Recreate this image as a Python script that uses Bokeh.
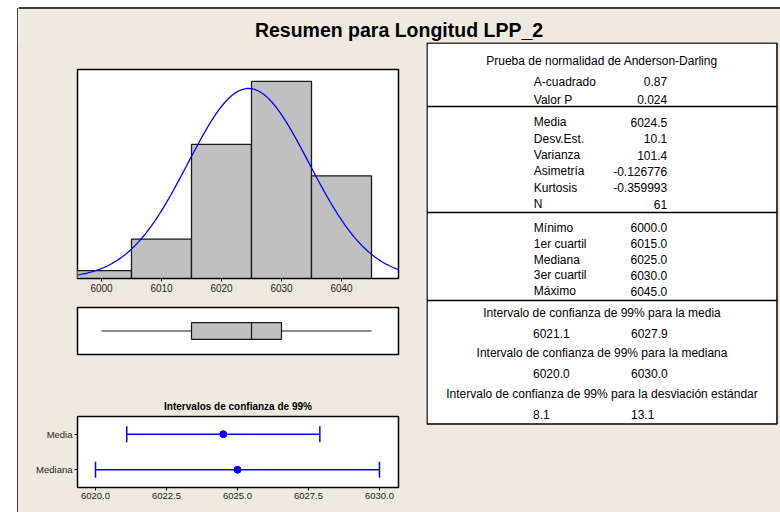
import numpy as np
from bokeh.plotting import figure
from bokeh.layouts import row, column
from bokeh.models import Range1d, FactorRange, FixedTicker, NumeralTickFormatter
from bokeh.core.properties import value
from bokeh.embed import file_html
from bokeh.resources import INLINE

# ---------------- data ----------------
bin_edges = [5995, 6005, 6015, 6025, 6035, 6045]
bin_counts = [1, 5, 17, 25, 13]
hist_ticks = [6000, 6010, 6020, 6030, 6040]

n_obs = 61
media = 6024.5
desv = 10.1

box_min, box_q1, box_med, box_q3, box_max = 6000.0, 6015.0, 6025.0, 6030.0, 6045.0

ci_labels = ["Media", "Mediana"]
ci_center = [6024.5, 6025.0]
ci_low = [6021.1, 6020.0]
ci_high = [6027.9, 6030.0]
ci_ticks = [6020.0, 6022.5, 6025.0, 6027.5, 6030.0]

ad_labels = ["A-cuadrado", "Valor P"]
ad_values = ["0.87", "0.024"]
desc_labels = ["Media", "Desv.Est.", "Varianza", "Asimetría", "Kurtosis", "N"]
desc_values = ["6024.5", "10.1", "101.4", "-0.126776", "-0.359993", "61"]
quart_labels = ["Mínimo", "1er cuartil", "Mediana", "3er cuartil", "Máximo"]
quart_values = ["6000.0", "6015.0", "6025.0", "6030.0", "6045.0"]
ic_titles = ["Intervalo de confianza de 99% para la media",
             "Intervalo de confianza de 99% para la mediana",
             "Intervalo de confianza de 99% para la desviación estándar"]
ic_low = ["6021.1", "6020.0", "8.1"]
ic_high = ["6027.9", "6030.0", "13.1"]

# ---------------- style ----------------
BG = "#EEEADF"
FONT = "Liberation Sans"
GREY = "#C0C0C0"
BLUE = "#0000FF"
TXT = "#222222"

def base(width, height, **kw):
    p = figure(width=width, height=height, output_backend="svg", toolbar_location=None, **kw)
    p.border_fill_color = BG
    p.background_fill_color = "white"
    p.grid.visible = False
    return p

def blank(width, height, bg):
    f = figure(width=width, height=height, output_backend="svg", toolbar_location=None,
               x_range=Range1d(0, width), y_range=Range1d(height, 0),
               min_border=0, min_border_left=0, min_border_right=0,
               min_border_top=0, min_border_bottom=0)
    f.axis.visible = False
    f.grid.visible = False
    f.outline_line_color = None
    f.background_fill_color = bg
    f.border_fill_color = bg
    return f

# ---------------- left white strip with frame line ----------------
sp = blank(18, 512, "white")
sp.quad(left=[17.5], right=[18], top=[7.5], bottom=[512], fill_color=BG, line_color=None)
sp.segment(x0=[17.5, 17.5], y0=[7.5, 7.5], x1=[17.5, 18], y1=[512, 7.5],
           line_color="black", line_width=1.5)

# ---------------- title ----------------
tf = blank(762, 42, "white")
tf.quad(left=[0], right=[762], top=[7.5], bottom=[42], fill_color=BG, line_color=None)
tf.segment(x0=[0], y0=[7.5], x1=[762], y1=[7.5], line_color="black", line_width=1.5)
tf.text(x=[380.5], y=[29.6], text=["Resumen para Longitud LPP_2"], text_font=value(FONT),
        text_font_style="bold", text_font_size="19.5px", text_align="center",
        text_baseline="middle", text_color="black")

# ---------------- histogram ----------------
xr = Range1d(5996, 6049.5)
hp = base(408, 258, x_range=xr, y_range=Range1d(0, 26.5),
          min_border_left=59, min_border_right=28, min_border_top=27, min_border_bottom=22)
hp.quad(left=bin_edges[:-1], right=bin_edges[1:], bottom=0, top=bin_counts,
        fill_color=GREY, line_color="#1a1a1a", line_width=1.3)
xs = np.linspace(5996, 6049.5, 300)
ys = n_obs * (bin_edges[1] - bin_edges[0]) * np.exp(-0.5 * ((xs - media) / desv) ** 2) / (desv * np.sqrt(2 * np.pi))
hp.line(xs, ys, line_color=BLUE, line_width=1.3)
hp.yaxis.visible = False
hp.xaxis.ticker = FixedTicker(ticks=hist_ticks)
hp.xaxis.minor_tick_line_color = None
hp.xaxis.major_tick_in = 0
hp.xaxis.major_tick_out = 3
hp.xaxis.major_label_text_font = FONT
hp.xaxis.major_label_text_font_size = "10px"
hp.xaxis.major_label_text_color = TXT
hp.xaxis.major_label_standoff = 2
hp.xaxis.axis_line_color = "black"
hp.outline_line_color = "black"
hp.outline_line_width = 1.5

# ---------------- boxplot ----------------
bp = base(408, 70, x_range=xr, y_range=Range1d(0, 1),
          min_border_left=59, min_border_right=28, min_border_top=7, min_border_bottom=16)
bp.segment(x0=[box_min, box_q3], y0=[0.5, 0.5], x1=[box_q1, box_max], y1=[0.5, 0.5],
           line_color="#1a1a1a", line_width=1.2)
bp.hbar(y=[0.5], left=[box_q1], right=[box_q3], height=0.355,
        fill_color=GREY, line_color="#1a1a1a", line_width=1.2)
bp.segment(x0=[box_med], y0=[0.5 - 0.355 / 2], x1=[box_med], y1=[0.5 + 0.355 / 2],
           line_color="#1a1a1a", line_width=1.2)
bp.axis.visible = False
bp.outline_line_color = "black"
bp.outline_line_width = 1.5

# ---------------- confidence intervals ----------------
cp = base(408, 142, x_range=Range1d(6019.366, 6030.67), y_range=FactorRange(factors=["Mediana", "Media"]),
          min_border_left=59, min_border_right=28, min_border_top=46, min_border_bottom=25,
          title="Intervalos de confianza de 99%")
cp.title.align = "center"
cp.title.text_font = FONT
cp.title.text_font_size = "10px"
cp.title.text_font_style = "bold"
cp.title.text_color = "black"
cp.segment(x0=ci_low, y0=ci_labels, x1=ci_high, y1=ci_labels, line_color=BLUE, line_width=1.5)
cp.scatter(x=ci_low, y=ci_labels, marker="dash", size=16, angle=np.pi / 2, line_color=BLUE, line_width=1.5)
cp.scatter(x=ci_high, y=ci_labels, marker="dash", size=16, angle=np.pi / 2, line_color=BLUE, line_width=1.5)
cp.scatter(x=ci_center, y=ci_labels, marker="circle", size=7, fill_color=BLUE, line_color=BLUE)
cp.xaxis.ticker = FixedTicker(ticks=ci_ticks)
cp.xaxis.formatter = NumeralTickFormatter(format="0.0")
for ax in (cp.xaxis, cp.yaxis):
    ax.minor_tick_line_color = None
    ax.major_tick_in = 0
    ax.major_tick_out = 3
    ax.major_label_text_font = FONT
    ax.major_label_text_font_size = "9.5px"
    ax.major_label_text_color = TXT
    ax.major_label_standoff = 2
    ax.axis_line_color = "black"
cp.outline_line_color = "black"
cp.outline_line_width = 1.5

# ---------------- table ----------------
tb = blank(354, 470, BG)
tb.quad(left=[0.5], right=[350.5], top=[0.5], bottom=[381.5], fill_color="white",
        line_color="black", line_width=1.5)
tb.segment(x0=[0.5] * 3, x1=[350.5] * 3, y0=[64, 170, 258], y1=[64, 170, 258],
           line_color="black", line_width=1.5)

def txt(xv, yv, s, align):
    tb.text(x=xv, y=yv, text=s, text_font=value(FONT), text_font_size="12px",
            text_align=align, text_baseline="middle", text_color="black")

LX, RX = 107.3, 240.7
txt([175.5], [18.7], ["Prueba de normalidad de Anderson-Darling"], "center")
ad_y = [39.3, 57.3]
txt([LX] * 2, ad_y, ad_labels, "left")
txt([RX] * 2, ad_y, ad_values, "right")
desc_y = [79.7 + 16.4 * i for i in range(6)]
txt([LX] * 6, desc_y, desc_labels, "left")
txt([RX] * 6, desc_y, desc_values, "right")
q_y = [185.3 + 15.85 * i for i in range(5)]
txt([LX] * 5, q_y, quart_labels, "left")
txt([RX] * 5, q_y, quart_values, "right")
ic_ty = [270.7, 310.7, 351.3]
ic_vy = [290.7, 330.7, 372.0]
txt([175.5] * 3, ic_ty, ic_titles, "center")
txt([106.5] * 3, ic_vy, ic_low, "left")
txt([204.5] * 3, ic_vy, ic_high, "left")

bgstyle = {"background-color": BG}
left_col = column(hp, bp, cp, spacing=0, styles=bgstyle)
body = row(left_col, tb, spacing=0, styles=bgstyle)
main = column(tf, body, spacing=0)
p = row(sp, main, spacing=0)

open("out.html", "w").write(file_html(p, INLINE))
